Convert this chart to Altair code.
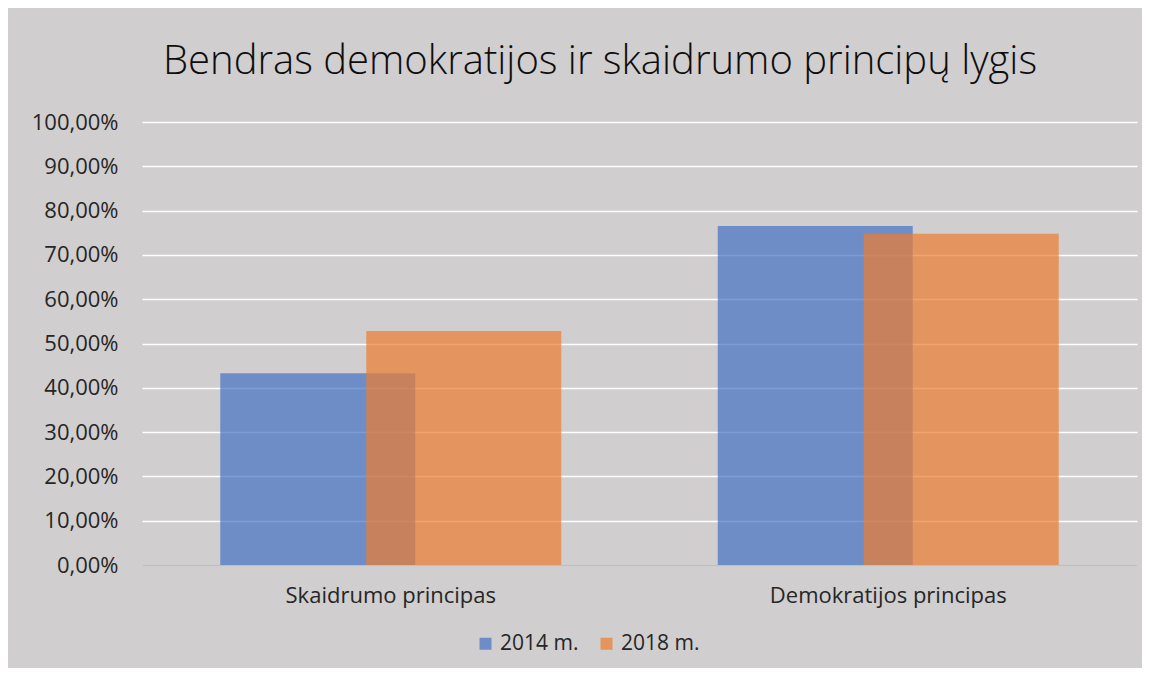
import altair as alt
import pandas as pd

categories = ["Skaidrumo principas", "Demokratijos principas"]
years = ["2014 m.", "2018 m."]
v2014 = [43.3, 76.5]
v2018 = [52.8, 74.8]
colors = ["#4472C4", "#ED7D31"]

rows = []
for c, a, b in zip(categories, v2014, v2018):
    rows.append({"cat": c, "year": years[0], "val": a})
    rows.append({"cat": c, "year": years[1], "val": b})
df = pd.DataFrame(rows)

FONT = "Open Sans"

x_enc = alt.X("cat:N", sort=categories, title=None,
              scale=alt.Scale(paddingInner=0, paddingOuter=0),
              axis=alt.Axis(labelAngle=0, labelFontSize=22, labelColor="#262626",
                            labelFont=FONT, labelPadding=20, ticks=False, labelLimit=0,
                            domainColor="#BFBFBF", domainWidth=2, grid=False))
y_enc = alt.Y("val:Q", title=None,
              scale=alt.Scale(domain=[0, 100], nice=False),
              axis=alt.Axis(values=list(range(0, 101, 10)), ticks=False, domain=False,
                            labelFontSize=22, labelColor="#262626", labelFont=FONT,
                            labelPadding=24, gridColor="#FFFFFF", gridWidth=1.5,
                            labelExpr="replace(format(datum.value, '.2f'), '.', ',') + '%'"))
color_enc = alt.Color("year:N", scale=alt.Scale(domain=years, range=colors),
                      legend=alt.Legend(title=None, orient="none", direction="horizontal",
                                        legendX=333, legendY=511, symbolType="square",
                                        symbolSize=144, symbolStrokeWidth=0,
                                        labelFontSize=21, labelFont=FONT,
                                        labelColor="#262626", labelOffset=4,
                                        columnPadding=17, padding=0))

base = alt.Chart(df).encode(x=x_enc, y=y_enc, color=color_enc)

b2014 = base.transform_filter(alt.datum.year == years[0]).mark_bar(
    width=195, xOffset=-73, opacity=0.7)
b2018 = base.transform_filter(alt.datum.year == years[1]).mark_bar(
    width=195, xOffset=73, opacity=0.7)

chart = alt.layer(b2014, b2018).properties(
    width=995, height=443,
    autosize=alt.AutoSizeParams(type="none"),
    padding={"left": 134, "top": 114, "right": 5, "bottom": 103},
    background="#D0CECE",
    title=alt.TitleParams("Bendras demokratijos ir skaidrumo principų lygis",
                          fontSize=40, font=FONT, fontWeight=300, color="#0D0D0D",
                          anchor="middle", frame="group", dx=-39.5,
                          baseline="alphabetic", offset=-3),
).configure_view(stroke=None)

chart.save("out.html", embed_options={"renderer": "svg", "actions": False})
